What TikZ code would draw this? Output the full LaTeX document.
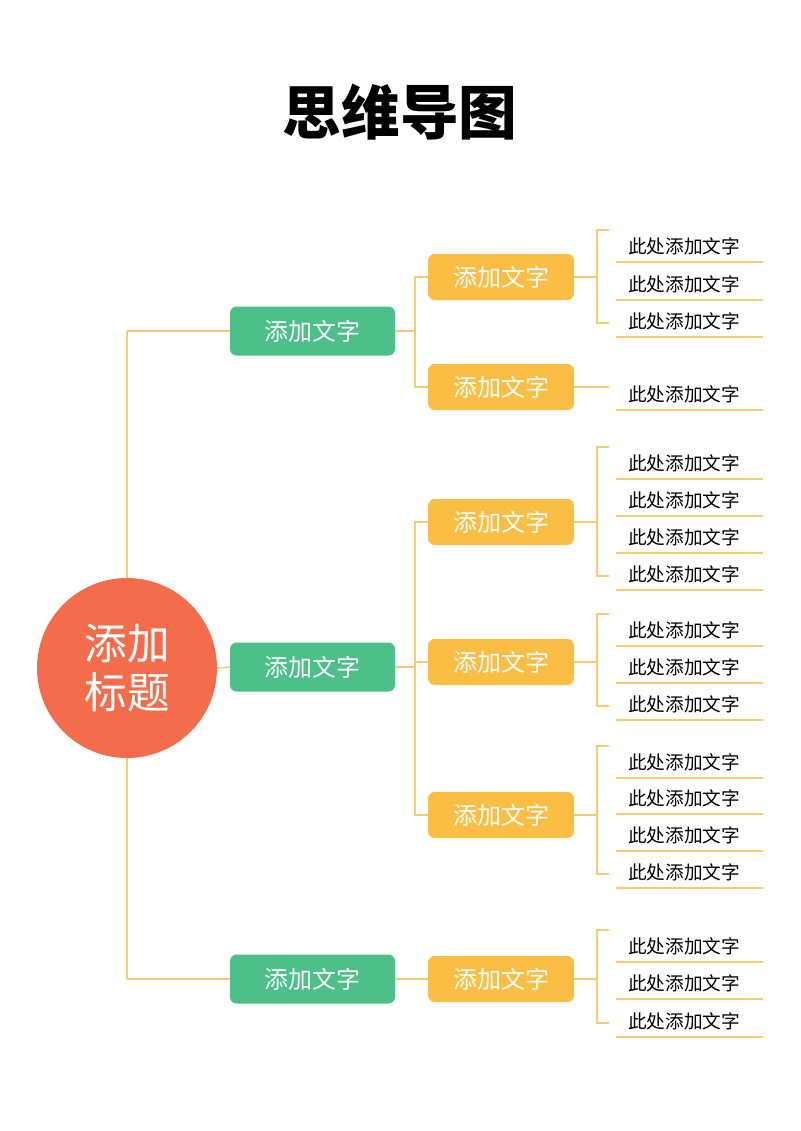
\documentclass[tikz,border=0pt]{standalone}
\usepackage{fontspec}
\setmainfont{Noto Sans CJK SC}
\begin{document}
\begin{tikzpicture}[x=0.75pt,y=-0.75pt,
  ln/.style={draw=lineC,line width=1.2pt},
  gbox/.style={fill=greenC,rounded corners=5pt,minimum width=123.75pt,minimum height=36.75pt,text=white,font=\fontsize{18}{20}\selectfont,inner sep=0pt},
  obox/.style={fill=orangeC,rounded corners=5pt,minimum width=109.5pt,minimum height=34.5pt,text=white,font=\fontsize{18}{20}\selectfont,inner sep=0pt},
  leaf/.style={anchor=west,font=\fontsize{14}{15}\selectfont,inner sep=0pt,text=black}]
\definecolor{lineC}{HTML}{F6CC6E}
\definecolor{greenC}{HTML}{4DC08A}
\definecolor{orangeC}{HTML}{FBBE45}
\definecolor{redC}{HTML}{F36C4B}
\useasboundingbox (0,0) rectangle (800,1131);
\node (title) at (400,112) {\fontsize{44}{48}\selectfont\bfseries 思维导图};
\coordinate (ct) at (127,331);
\coordinate (cb) at (127,979);
\draw[ln] (ct) -- (cb);
\node[circle,fill=redC,minimum size=135pt,inner sep=0pt,text=white,align=center,font=\fontsize{32}{37}\selectfont] (root) at (127,668) {添加\\标题};
\node[gbox] (g1) at (312.5,331) {添加文字};
\node[gbox] (g2) at (312.5,667) {添加文字};
\node[gbox] (g3) at (312.5,979) {添加文字};
\draw[ln] (ct) -- (g1.west);
\draw[ln] (root.east) -- (g2.west);
\draw[ln] (cb) -- (g3.west);
\node[obox] (o1) at (501,277) {添加文字};
\node[obox] (o2) at (501,387) {添加文字};
\node[obox] (o3) at (501,522) {添加文字};
\node[obox] (o4) at (501,662) {添加文字};
\node[obox] (o5) at (501,815) {添加文字};
\node[obox] (o6) at (501,979) {添加文字};
% green -> orange
\draw[ln] (g1.east) -- (415,331);
\draw[ln] (o1.west) -| (415,387) -- (o2.west);
\draw[ln] (g2.east) -- (415,667);
\draw[ln] (o3.west) -| (415,815) -- (o5.west);
\draw[ln] (415,662) -- (o4.west);
\draw[ln] (g3.east) -- (o6.west);
% leaves
\newcommand{\leafgroup}[3]{%
  \draw[ln] (#1.east) -- (597,#2);
  \foreach \yy [count=\i] in {#3} {
    \node[leaf] (l#1\i) at (628,\yy) {此处添加文字};
    \draw[ln] (616,\yy+16) -- (763,\yy+16);
  }}
\newcommand{\bracket}[2]{\draw[ln] (609,#1-16) -- (597,#1-16) -- (597,#2+2) -- (609,#2+2);}
\leafgroup{o1}{277}{246,284,321}\bracket{246}{321}
\leafgroup{o3}{522}{463,500,537,574}\bracket{463}{574}
\leafgroup{o4}{662}{630,667,704}\bracket{630}{704}
\leafgroup{o5}{815}{762,798,835,872}\bracket{762}{872}
\leafgroup{o6}{979}{946,983,1021}\bracket{946}{1021}
\draw[ln] (o2.east) -- (609,387);
\node[leaf] (lo21) at (628,394) {此处添加文字};
\draw[ln] (616,410) -- (763,410);
\end{tikzpicture}
\end{document}
